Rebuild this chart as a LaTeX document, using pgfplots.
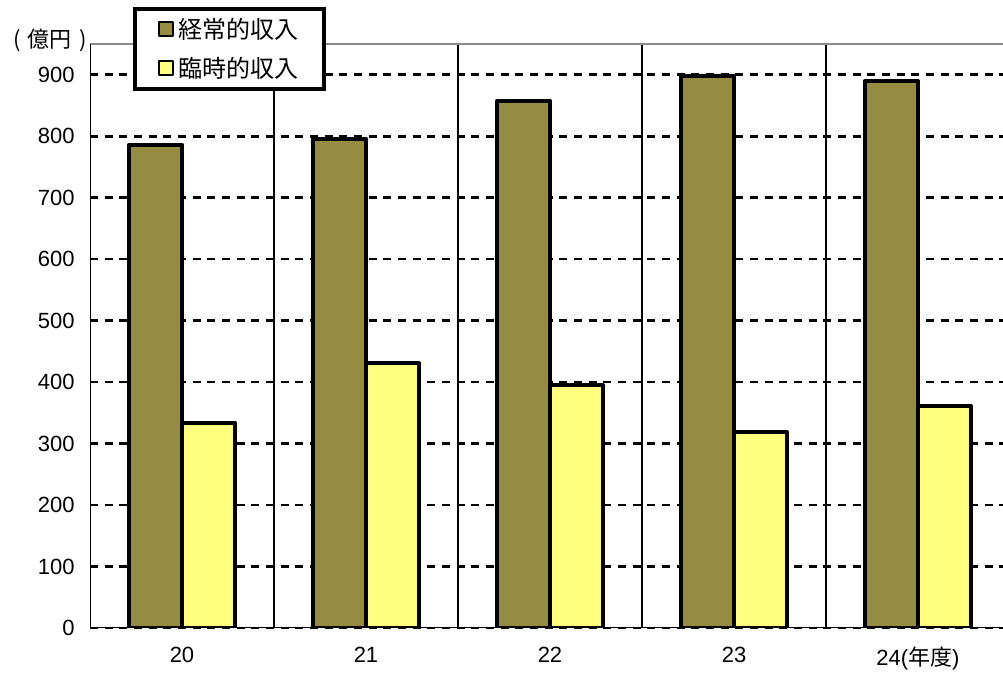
\documentclass[border=0pt]{standalone}
\usepackage{fontspec}
\setmainfont{Liberation Sans}
\newfontfamily\jp{Noto Sans CJK JP}
\usepackage{pgfplots}
\pgfplotsset{compat=1.18}
\definecolor{olivebar}{RGB}{150,140,65}
\definecolor{yellowbar}{RGB}{255,255,128}
\begin{document}
\begin{tikzpicture}
\useasboundingbox (0pt,0pt) rectangle (752.25pt,504.75pt);
\begin{axis}[
  at={(67.5pt,33.75pt)}, anchor=south west, scale only axis,
  width=684.75pt, height=438pt,
  xmin=-0.5, xmax=4.462, ymin=0, ymax=950,
  ybar=0pt, bar width=39.75pt,
  xtick={0,1,2,3,4}, xticklabels={20,21,22,23,{24({\jp 年度})}},
  ytick={0,100,...,900},
  minor xtick={0.5,1.5,2.5,3.5},
  xminorgrids, ymajorgrids,
  major grid style={black, line width=2pt, dash pattern=on 6pt off 5pt},
  minor grid style={black, line width=1.5pt, solid},
  axis line style={draw=none},
  major tick length=0pt, minor tick length=0pt,
  tick label style={font=\fontsize{16.5}{19}\selectfont},
  /pgf/number format/assume math mode=true,
  xticklabel style={yshift=-11pt},
  yticklabel style={xshift=-8pt},
  legend style={at={(0.047,1.0634)}, anchor=north west, draw=black, line width=3pt, fill=white,
    font=\jp\fontsize{18}{21}\selectfont, row sep=8.5pt, inner xsep=17pt, inner ysep=5pt,
    /tikz/every odd column/.style={column sep=2pt}},
  legend cell align=left,
]
\addplot[fill=olivebar, draw=black, line width=3pt, line join=round,
  legend image code/.code={\draw[fill=olivebar,draw=black,line width=1.5pt] (0pt,-5.25pt) rectangle (10.5pt,5.25pt);}]
  coordinates {(0,786) (1,796) (2,858) (3,898) (4,890)};
\addplot[fill=yellowbar, draw=black, line width=3pt, line join=round,
  legend image code/.code={\draw[fill=yellowbar,draw=black,line width=1.5pt] (0pt,-5.25pt) rectangle (10.5pt,5.25pt);}]
  coordinates {(0,334) (1,431) (2,395) (3,319) (4,361)};
\draw[black!45, line width=1.5pt] (rel axis cs:0,1) -- (rel axis cs:1,1);
\draw[black, line width=1.5pt] (rel axis cs:0,0) -- (rel axis cs:0,1);
\draw[black, line width=2pt] (rel axis cs:0,0) -- (rel axis cs:1,0);
\legend{経常的収入,臨時的収入}
\end{axis}
\node[font=\jp\fontsize{16.5}{19}\selectfont, inner sep=0pt] at (37.5pt,474.75pt) {\makebox[1em]{(}億円\makebox[1em]{)}};
\end{tikzpicture}
\end{document}
